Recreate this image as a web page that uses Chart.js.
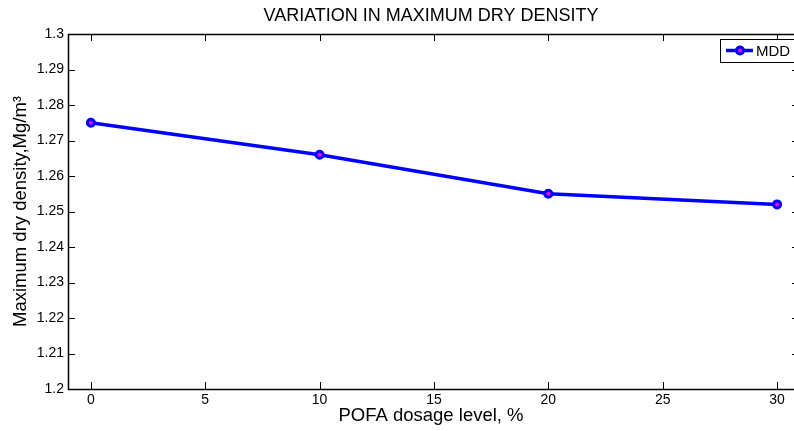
<!DOCTYPE html>
<html>
<head>
<meta charset="utf-8">
<script src="https://cdn.jsdelivr.net/npm/chart.js@4/dist/chart.umd.min.js"></script>
<style>
  html, body { margin: 0; padding: 0; background: #fff; overflow: hidden; }
  canvas { display: block; }
</style>
</head>
<body>
<canvas id="chart" width="794" height="431"></canvas>
<script>
// data
const dosage = [0, 10, 20, 30]
const mdd = [1.275, 1.266, 1.255, 1.252]
const xTicks = [0, 5, 10, 15, 20, 25, 30]
const yTicks = [1.2, 1.21, 1.22, 1.23, 1.24, 1.25, 1.26, 1.27, 1.28, 1.29, 1.3]

const FONT = "'Liberation Sans', Arial, sans-serif"
const TICK_LEN = 7
// the original figure is cut off on the right, its right axis sits a few px past the edge
const RIGHT_AXIS_OFF = 5

// matlab style box with inward ticks + legend in the corner
const boxPlugin = {
  id: 'box',
  afterDraw(chart) {
    const { ctx, chartArea: a, scales } = chart
    const rx = a.right + RIGHT_AXIS_OFF
    ctx.save()
    ctx.strokeStyle = '#000'
    ctx.lineWidth = 1
    ctx.beginPath()
    xTicks.forEach(v => {
      const x = Math.round(scales.x.getPixelForValue(v)) + 0.5
      ctx.moveTo(x, a.bottom); ctx.lineTo(x, a.bottom - TICK_LEN)
      ctx.moveTo(x, a.top); ctx.lineTo(x, a.top + TICK_LEN)
    })
    yTicks.forEach(v => {
      const y = Math.round(scales.y.getPixelForValue(v)) + 0.5
      ctx.moveTo(a.left, y); ctx.lineTo(a.left + TICK_LEN, y)
      ctx.moveTo(rx, y); ctx.lineTo(rx - TICK_LEN, y)
    })
    ctx.stroke()
    ctx.lineWidth = 1.5
    ctx.strokeRect(Math.round(a.left) + 0.5, Math.round(a.top) + 0.5,
      Math.round(rx - a.left), Math.round(a.bottom - a.top))

    // legend
    const ds = chart.data.datasets[0]
    const lx = 720, ly = 39, lw = 80, lh = 23
    ctx.fillStyle = '#fff'
    ctx.fillRect(lx, ly, lw, lh)
    ctx.lineWidth = 1
    ctx.strokeRect(lx + 0.5, ly + 0.5, lw, lh)
    const my = ly + lh / 2
    ctx.strokeStyle = ds.borderColor
    ctx.lineWidth = ds.borderWidth
    ctx.beginPath()
    ctx.moveTo(lx + 6, my); ctx.lineTo(lx + 33, my)
    ctx.stroke()
    ctx.beginPath()
    ctx.arc(lx + 20, my, ds.pointRadius, 0, Math.PI * 2)
    ctx.fillStyle = ds.pointBackgroundColor
    ctx.fill()
    ctx.lineWidth = ds.pointBorderWidth
    ctx.strokeStyle = ds.pointBorderColor
    ctx.stroke()
    ctx.fillStyle = '#000'
    ctx.font = '15px ' + FONT
    ctx.textBaseline = 'middle'
    ctx.textAlign = 'left'
    ctx.fillText(ds.label, lx + 36, my + 1)
    ctx.restore()
  }
}

new Chart(document.getElementById('chart'), {
  type: 'line',
  data: {
    datasets: [{
      label: 'MDD',
      data: dosage.map((x, i) => ({ x: x, y: mdd[i] })),
      borderColor: '#0000ff',
      borderWidth: 3.5,
      pointRadius: 3.5,
      pointBorderWidth: 3,
      pointBorderColor: '#0000ff',
      pointBackgroundColor: '#ff00ff',
      tension: 0
    }]
  },
  options: {
    responsive: false,
    animation: false,
    layout: { padding: 0, autoPadding: false },
    plugins: {
      legend: { display: false },
      tooltip: { enabled: false },
      title: {
        display: true,
        fullSize: false,
        text: 'VARIATION IN MAXIMUM DRY DENSITY',
        color: '#000',
        font: { family: FONT, size: 18, weight: 'normal' },
        padding: { top: 5.6, bottom: 6.8 }
      }
    },
    scales: {
      x: {
        type: 'linear',
        min: -1,
        max: 30.74,
        grid: { display: false, drawTicks: false },
        border: { display: false },
        afterBuildTicks: s => { s.ticks = xTicks.map(v => ({ value: v })) },
        afterFit: s => {
          s.height = 42
          s.paddingLeft = 0
          s.paddingRight = 0
        },
        ticks: { color: '#000', padding: 3, font: { family: FONT, size: 14 } },
        title: {
          display: true,
          text: 'POFA dosage level, %',
          color: '#000',
          font: { family: FONT, size: 18.5 },
          padding: { top: 0, bottom: 3.5 }
        }
      },
      y: {
        min: 1.2,
        max: 1.3,
        grid: { display: false, drawTicks: false },
        border: { display: false },
        afterBuildTicks: s => { s.ticks = yTicks.map(v => ({ value: v })) },
        afterFit: s => { s.width = 68 },
        ticks: {
          color: '#000',
          padding: 4,
          font: { family: FONT, size: 14 },
          callback: v => String(+v.toFixed(2))
        },
        title: {
          display: true,
          text: 'Maximum dry density,Mg/m³',
          color: '#000',
          font: { family: FONT, size: 18.5 },
          padding: { top: 10, bottom: 0 }
        }
      }
    }
  },
  plugins: [boxPlugin]
})
</script>
</body>
</html>
